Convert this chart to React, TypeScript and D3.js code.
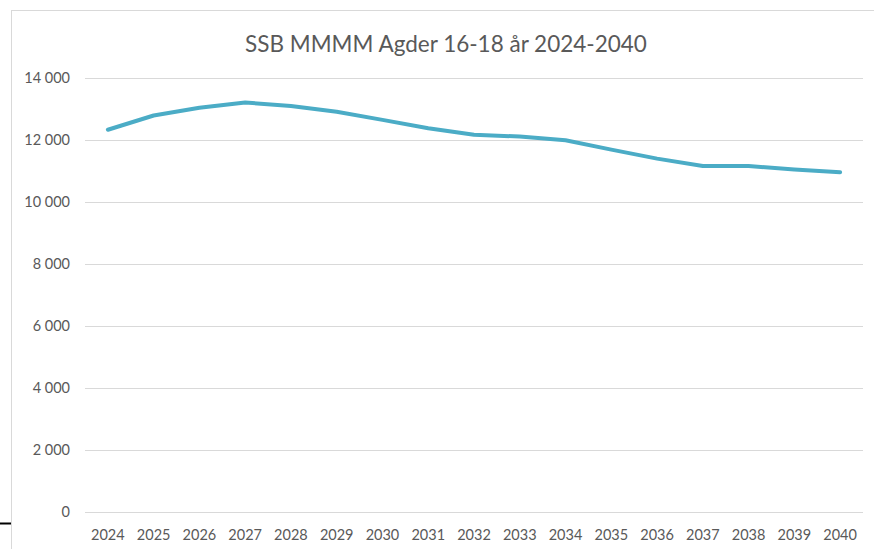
import React from 'react';
import * as d3 from 'd3';

const years = ['2024', '2025', '2026', '2027', '2028', '2029', '2030', '2031', '2032', '2033', '2034', '2035', '2036', '2037', '2038', '2039', '2040'];
const students = [12330, 12790, 13040, 13210, 13100, 12910, 12650, 12380, 12170, 12110, 11990, 11690, 11400, 11160, 11160, 11050, 10960];
const yTicks = [0, 2000, 4000, 6000, 8000, 10000, 12000, 14000];
const title = 'SSB MMMM Agder 16-18 år 2024-2040';

const W = 874, H = 549;
const plot = { left: 85, right: 863, top: 78, bottom: 512 };
const font = 'Lato, Carlito, Calibri, sans-serif';
const textColor = '#595959';

const fmt = (v: number) => d3.format(',')(v).replace(/,/g, '\u00a0');

export default function App() {
    const x = d3.scaleBand<string>()
        .domain(years)
        .range([plot.left, plot.right])
        .padding(0);
    const y = d3.scaleLinear()
        .domain([0, 14000])
        .range([plot.bottom, plot.top]);

    const cx = (yr: string) => (x(yr) as number) + x.bandwidth() / 2;

    const line = d3.line<number>()
        .x((_, i) => cx(years[i]))
        .y(d => y(d));

    return (
        <div style={{ position: 'absolute', left: 0, top: 0 }}>
            <svg width={W} height={H} style={{ display: 'block', background: '#fff' }}>
                {/* chart area border */}
                <rect x={11.5} y={10.5} width={W} height={H} fill="#fff" stroke="#d9d9d9" strokeWidth={1} />
                <line x1={0} x2={11} y1={523.5} y2={523.5} stroke="#000" strokeWidth={2} />

                <text x={446} y={52} textAnchor="middle" fontFamily={font} fontSize={22.5} fill={textColor}>
                    {title}
                </text>

                {yTicks.map(t => (
                    <g key={t}>
                        <line x1={plot.left} x2={plot.right} y1={Math.round(y(t)) + 0.5} y2={Math.round(y(t)) + 0.5}
                            stroke="#d9d9d9" strokeWidth={1} />
                        <text x={70} y={y(t) + 5} textAnchor="end" fontFamily={font} fontSize={14.5} fill={textColor}>
                            {fmt(t)}
                        </text>
                    </g>
                ))}

                {years.map(yr => (
                    <text key={yr} x={cx(yr)} y={540} textAnchor="middle" fontFamily={font} fontSize={14.5} fill={textColor}>
                        {yr}
                    </text>
                ))}

                <path d={line(students) || ''} fill="none" stroke="#4bacc6" strokeWidth={4}
                    strokeLinejoin="round" strokeLinecap="round" />
            </svg>
        </div>
    );
}
